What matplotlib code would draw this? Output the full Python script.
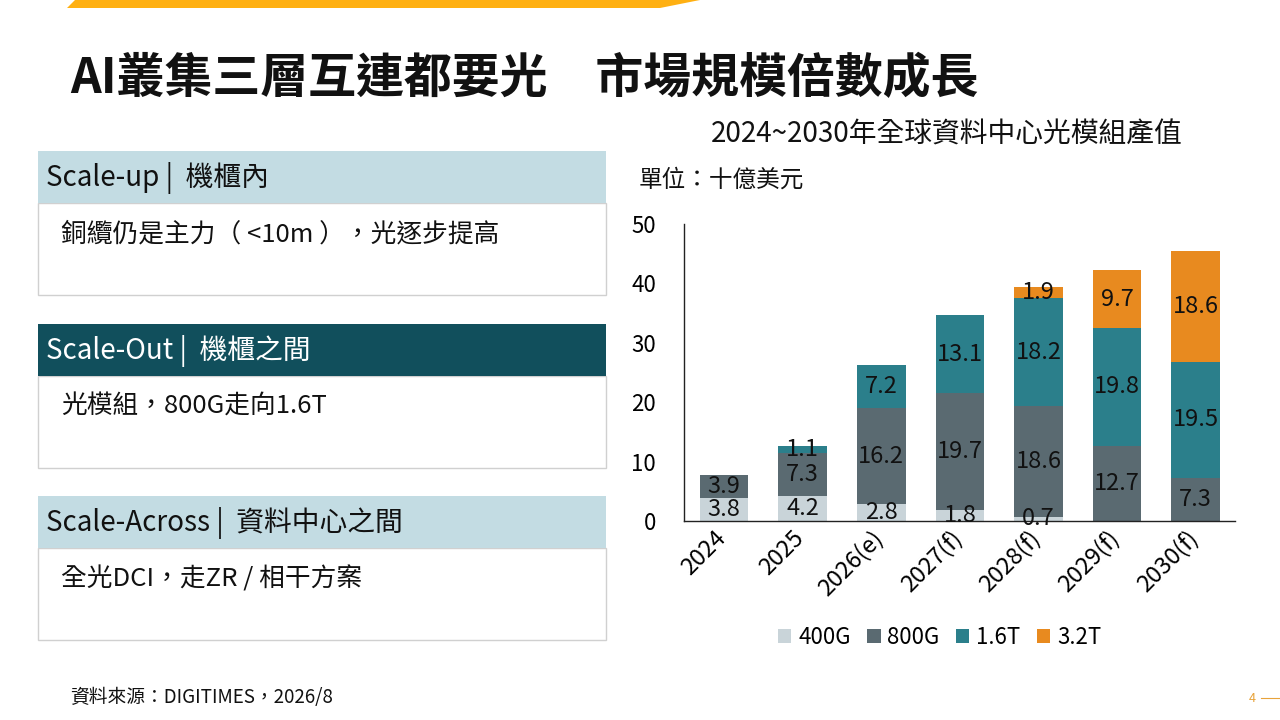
import numpy as np
import matplotlib
matplotlib.use("Agg")
import matplotlib.pyplot as plt
import matplotlib.transforms as mtransforms
from matplotlib.patches import Rectangle, Polygon

plt.rcParams['font.family'] = ['Noto Sans CJK TC', 'DejaVu Sans']

# 資料
years = ['2024', '2025', '2026(e)', '2027(f)', '2028(f)', '2029(f)', '2030(f)']
series_names = ['400G', '800G', '1.6T', '3.2T']
v400 = [3.8, 4.2, 2.8, 1.8, 0.7, 0.0, 0.0]
v800 = [3.9, 7.3, 16.2, 19.7, 18.6, 12.7, 7.3]
v16t = [0.0, 1.1, 7.2, 13.1, 18.2, 19.8, 19.5]
v32t = [0.0, 0.0, 0.0, 0.0, 1.9, 9.7, 18.6]
colors = ['#c9d4d9', '#5a6a71', '#2b7f8b', '#e88a1f']

panel_heads = ['Scale-up |  機櫃內', 'Scale-Out |  機櫃之間', 'Scale-Across |  資料中心之間']
panel_texts = ['銅纜仍是主力（ <10m ），光逐步提高', '光模組，800G走向1.6T', '全光DCI，走ZR / 相干方案']

W, H = 1280, 720
fig = plt.figure(figsize=(W / 100, H / 100), dpi=100)
fig.patch.set_facecolor('white')

# 背景用的像素座標軸
bg = fig.add_axes([0, 0, 1, 1])
bg.set_xlim(0, W)
bg.set_ylim(H, 0)
bg.axis('off')

# 上方橘色條
bg.add_patch(Polygon([(67, 8), (75, 0), (700, 0), (660, 8)], closed=True,
                     facecolor='#ffb012', edgecolor='none'))

# 大標題
bg.text(70, 79, 'AI叢集三層互連都要光　市場規模倍數成長', fontsize=34.5, fontweight='bold',
        color='#111111', va='center', ha='left')

# 左側三個區塊
head_tops = [151, 324, 496]
head_colors = ['#c3dce3', '#114f5c', '#c3dce3']
head_text_colors = ['#111111', 'white', '#111111']
for top, hc, tc, head, body in zip(head_tops, head_colors, head_text_colors, panel_heads, panel_texts):
    bg.add_patch(Rectangle((38, top + 52), 568, 92, facecolor='white', edgecolor='#d0d0d0', lw=1))
    bg.add_patch(Rectangle((38, top), 568, 52, facecolor=hc, edgecolor='none'))
    bg.text(46, top + 27, head, fontsize=20, color=tc, va='center', ha='left')
    bg.text(61, top + 83, body, fontsize=18.5, color='#111111', va='center', ha='left')

# 圖表標題
bg.text(947, 135, '2024~2030年全球資料中心光模組產值', fontsize=20, fontweight='medium',
        color='#111111', va='center', ha='center')
bg.text(639, 180, '單位：十億美元', fontsize=17, color='#111111', va='center', ha='left')

# 資料來源與頁碼
bg.text(70, 697, '資料來源：DIGITIMES，2026/8', fontsize=13.5, fontweight='medium',
        color='#111111', va='center', ha='left')
bg.text(1252, 698, '4', fontsize=9, color='#e8a33a', va='center', ha='center')
bg.plot([1261, 1280], [698, 698], color='#e8a33a', lw=0.8)

# 堆疊長條圖
ax = fig.add_axes([684 / W, (H - 521) / H, 551 / W, (521 - 224) / H])
x = np.arange(len(years))
bottom = np.zeros(len(years))
for name, vals, col in zip(series_names, [v400, v800, v16t, v32t], colors):
    vals = np.array(vals)
    ax.bar(x, vals, width=0.62, bottom=bottom, color=col, label=name)
    for xi, b, v in zip(x, bottom, vals):
        if v > 0:
            ax.text(xi, b + v / 2, f'{v:.1f}', ha='center', va='center', fontsize=17, color='#111111')
    bottom += vals

ax.set_xlim(-0.51, 6.5)
ax.set_ylim(0, 50)
ax.set_yticks([0, 10, 20, 30, 40, 50])
ax.tick_params(axis='y', length=0, labelsize=16, pad=20)
ax.tick_params(axis='x', length=0, labelsize=17, pad=4)
ax.set_xticks(x)
ax.set_xticklabels(years, rotation=45, ha='right', rotation_mode='anchor')
shift = mtransforms.ScaledTranslation(-10 / 100, 0, fig.dpi_scale_trans)
for lab in ax.get_xticklabels():
    lab.set_transform(lab.get_transform() + shift)
for s in ['top', 'right']:
    ax.spines[s].set_visible(False)
for s in ['left', 'bottom']:
    ax.spines[s].set_color('#222222')
    ax.spines[s].set_linewidth(1)

ax.legend(loc='center', bbox_to_anchor=(0.464, (521 - 637) / (521 - 224)), ncol=4, frameon=False,
          fontsize=16, handlelength=0.6, handleheight=0.6, handletextpad=0.3, columnspacing=0.75)

fig.savefig('out.png', dpi=100)
